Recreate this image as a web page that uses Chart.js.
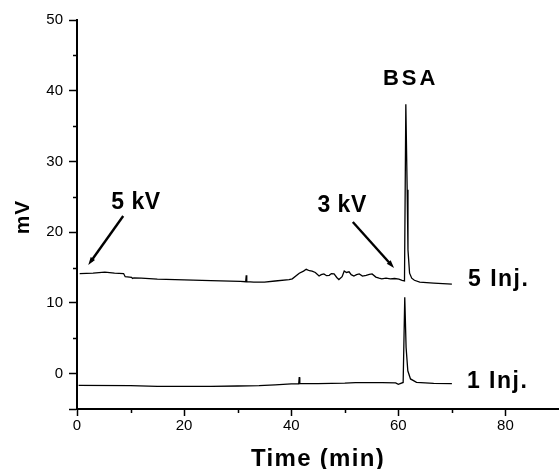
<!DOCTYPE html>
<html>
<head>
<meta charset="utf-8">
<script src="https://cdn.jsdelivr.net/npm/chart.js@4/dist/chart.umd.min.js"></script>
<style>
  html, body { margin: 0; padding: 0; background: #fff; }
  #wrap { width: 559px; height: 469px; }
</style>
</head>
<body>
<div id="wrap"><canvas id="chart" width="559" height="469"></canvas></div>
<script>
// time (min) and signal (mV)
const inj5Time = [0.5, 3, 5.2, 7, 8.7, 9.0, 10.2, 10.4, 10.6, 12, 15, 20, 25, 30.5, 31.5, 31.6, 31.7, 33, 35, 37,
  39.6, 40.2, 41.5, 42.3, 42.8, 43.4, 43.9, 44.5, 45.2, 45.6, 46.1, 46.6, 47.1, 47.5, 48, 48.5, 48.9, 49.5, 49.9, 50.3,
  50.8, 51.2, 51.7, 52.2, 52.7, 53.3, 54, 54.6, 55.1, 55.8, 56.4, 56.9, 57.7, 58.5, 59.3, 60.1, 60.7, 61.15,
  61.4, 61.65, 61.8, 62.1, 62.5, 63, 64, 66.6, 70];
const inj5Signal = [14.15, 14.2, 14.35, 14.2, 14.15, 13.7, 13.6, 13.45, 13.55, 13.5, 13.35, 13.25, 13.15, 13.05, 13.0, 13.9, 13.0, 12.95, 12.95, 13.1,
  13.3, 13.4, 14.2, 14.5, 14.75, 14.55, 14.5, 14.3, 13.8, 14.0, 14.1, 13.85, 13.9, 14.15, 14.1, 13.6, 13.3, 13.7, 14.5, 14.3,
  14.4, 14.0, 13.8, 14.0, 14.1, 13.8, 13.9, 14.05, 14.1, 13.65, 13.5, 13.4, 13.5, 13.4, 13.45, 13.35, 13.2, 13.1,
  38.1, 26, 17.5, 14.2, 13.5, 13.2, 12.95, 12.8, 12.65];

const inj1Time = [0.3, 10, 15, 25, 30, 34, 37, 40, 41.4, 41.5, 41.6, 45, 50, 52, 57, 59.5, 60.0, 60.9,
  61.2, 61.45, 61.77, 62.27, 63.4, 66.6, 70];
const inj1Signal = [-1.65, -1.7, -1.8, -1.8, -1.75, -1.7, -1.6, -1.45, -1.45, -0.5, -1.4, -1.4, -1.35, -1.28, -1.28, -1.3, -1.5, -1.25,
  10.8, 3.7, 0.4, -0.75, -1.23, -1.37, -1.4];

const xTicks = [0, 20, 40, 60, 80];
const yTicks = [0, 10, 20, 30, 40, 50];

const FONT = "'Liberation Sans', Arial, Helvetica, sans-serif";

function pts(xs, ys) {
  return xs.map((x, i) => ({ x: x, y: ys[i] }));
}

const extras = {
  id: 'extras',
  afterDraw(chart) {
    const ctx = chart.ctx;
    const xs = chart.scales.x, ys = chart.scales.y;
    const area = chart.chartArea;
    ctx.save();
    ctx.strokeStyle = '#000';
    ctx.fillStyle = '#000';

    // minor ticks
    ctx.lineWidth = 1.5;
    ctx.beginPath();
    for (let v = 5; v < 50; v += 10) {
      const py = Math.round(ys.getPixelForValue(v)) + 0.5;
      ctx.moveTo(area.left - 4, py);
      ctx.lineTo(area.left, py);
    }
    for (let v = 10; v < 90; v += 20) {
      const px = Math.round(xs.getPixelForValue(v)) + 0.5;
      ctx.moveTo(px, area.bottom);
      ctx.lineTo(px, area.bottom + 4);
    }
    ctx.stroke();

    // arrows
    function arrow(x1, y1, x2, y2) {
      const ax = xs.getPixelForValue(x1), ay = ys.getPixelForValue(y1);
      const bx = xs.getPixelForValue(x2), by = ys.getPixelForValue(y2);
      const ang = Math.atan2(by - ay, bx - ax);
      ctx.lineWidth = 2.4;
      ctx.beginPath();
      ctx.moveTo(ax, ay);
      ctx.lineTo(bx - Math.cos(ang) * 5, by - Math.sin(ang) * 5);
      ctx.stroke();
      ctx.beginPath();
      ctx.moveTo(bx, by);
      ctx.lineTo(bx - Math.cos(ang) * 8 + Math.sin(ang) * 2.6, by - Math.sin(ang) * 8 - Math.cos(ang) * 2.6);
      ctx.lineTo(bx - Math.cos(ang) * 8 - Math.sin(ang) * 2.6, by - Math.sin(ang) * 8 + Math.cos(ang) * 2.6);
      ctx.closePath();
      ctx.fill();
    }
    arrow(8.63, 22.29, 2.1, 15.36);
    arrow(51.5, 21.44, 59.2, 14.93);

    // labels
    function label(text, x, y, size, align, spacing) {
      ctx.font = 'bold ' + size + 'px ' + FONT;
      ctx.letterSpacing = (spacing || 0) + 'px';
      ctx.textAlign = align;
      ctx.textBaseline = 'middle';
      ctx.fillText(text, xs.getPixelForValue(x), ys.getPixelForValue(y));
    }
    label('5 kV', 11.0, 24.2, 23, 'center', 0.5);
    label('3 kV', 49.5, 23.8, 23, 'center', 0.5);
    label('BSA', 62.3, 41.6, 22, 'center', 3);
    label('5 Inj.', 73.0, 13.3, 23, 'left', 1.5);
    label('1 Inj.', 72.8, -1.1, 23, 'left', 1.5);

    // axis titles
    ctx.font = 'bold 24px ' + FONT;
    ctx.letterSpacing = '1.3px';
    ctx.textAlign = 'center';
    ctx.textBaseline = 'middle';
    ctx.fillText('Time (min)', (area.left + area.right) / 2, 459);

    ctx.translate(23, 217);
    ctx.rotate(-Math.PI / 2);
    ctx.font = 'bold 21px ' + FONT;
    ctx.letterSpacing = '1px';
    ctx.fillText('mV', 0, 0);
    ctx.restore();
  }
};

new Chart(document.getElementById('chart'), {
  type: 'line',
  data: {
    datasets: [
      { label: '5 Inj.', data: pts(inj5Time, inj5Signal), borderColor: '#000', borderWidth: 1.3, pointRadius: 0, tension: 0 },
      { label: '1 Inj.', data: pts(inj1Time, inj1Signal), borderColor: '#000', borderWidth: 1.3, pointRadius: 0, tension: 0 }
    ]
  },
  options: {
    responsive: false,
    animation: false,
    events: [],
    layout: { padding: { top: 20, right: 0, left: 0, bottom: 0 } },
    plugins: { legend: { display: false }, tooltip: { enabled: false } },
    scales: {
      x: {
        type: 'linear',
        min: 0,
        max: 90,
        afterFit(scale) { scale.height = 60; },
        afterBuildTicks(scale) {
          scale.ticks = xTicks.map(v => ({ value: v }));
        },
        border: { display: true, color: '#000', width: 2 },
        grid: { display: true, drawOnChartArea: false, drawTicks: true, tickLength: 7, tickColor: '#000', tickWidth: 1.5 },
        ticks: { color: '#000', font: { family: FONT, size: 15 }, padding: 1, maxRotation: 0, autoSkip: false }
      },
      y: {
        type: 'linear',
        min: -5,
        max: 50,
        afterFit(scale) { scale.width = 77; },
        afterBuildTicks(scale) {
          scale.ticks = [-5].concat(yTicks).map(v => ({ value: v }));
        },
        border: { display: true, color: '#000', width: 2 },
        grid: { display: true, drawOnChartArea: false, drawTicks: true, tickLength: 8, tickColor: '#000', tickWidth: 1.5 },
        ticks: {
          color: '#000', font: { family: FONT, size: 15 }, padding: 6, autoSkip: false,
          callback: v => (v === -5 ? '' : v)
        }
      }
    }
  },
  plugins: [extras]
});
</script>
</body>
</html>
